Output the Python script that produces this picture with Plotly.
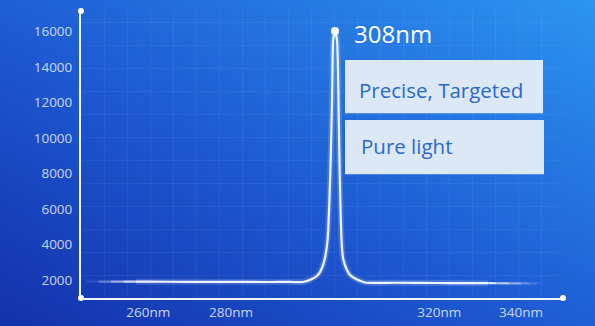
import base64
import numpy as np
import plotly.graph_objects as go

# ---------------- data ----------------
wavelength_nm = [245.2, 248, 251, 254, 257, 260, 270, 280, 290, 296, 299.4, 301.8, 303.4,
                 304.5, 305.3, 306.0, 306.5, 306.9, 307.2, 307.35, 307.5, 308.0, 308.23,
                 308.32, 308.40, 308.49, 308.61, 308.75, 308.92, 309.27, 309.73, 310.42,
                 311.46, 315, 320, 325, 330, 332, 334, 337, 340, 342, 344, 345.4]
intensity = [1915, 1913, 1911, 1909, 1907, 1905, 1898, 1890, 1888, 1890, 1887, 2056, 2282,
             2676, 3240, 4255, 6510, 9328, 12146, 14401, 15528, 16036, 15528,
             14401, 12146, 9328, 6510, 4255, 3240, 2676, 2282, 2056,
             1860, 1845, 1830, 1825, 1820, 1818, 1816, 1814, 1812, 1810, 1808, 1806]

peak_nm = 308
peak_value = 16036
peak_label = "308nm"

y_ticks = [2000, 4000, 6000, 8000, 10000, 12000, 14000, 16000]
y_tick_text = ["2000", "4000", "6000", "8000", "10000", "12000", "14000", "16000"]
x_tick_nm = [260, 280, 320, 340]
x_tick_text = ["260nm", "280nm", "320nm", "340nm"]

box_texts = ["Precise, Targeted", "Pure light"]

# The x axis of the original graphic is not linear: a piecewise scale (nm -> axis units)
scale_nm = [243.8, 260, 280, 308, 320, 340, 350.3]
scale_u = [81, 148.3, 231, 335, 439.3, 521, 563]


def xs(nm):
    return np.interp(np.asarray(nm, dtype=float), scale_nm, scale_u)


# ---------------- layout constants ----------------
W, H = 595, 326
ML, MR, MT, MB = 81, 32, 11, 28
PW, PH = W - ML - MR, H - MT - MB
Y_RANGE = [985, 17165]
X_RANGE = [scale_u[0], scale_u[-1]]


def px_x(px):
    return (px - ML) / PW


def px_y(py):
    return (H - MB - py) / PH


svg = (
    "<svg xmlns='http://www.w3.org/2000/svg' width='595' height='326'>"
    "<defs><linearGradient id='g' x1='0' y1='1' x2='1' y2='0'>"
    "<stop offset='0' stop-color='#1331ab'/>"
    "<stop offset='0.45' stop-color='#1d59d2'/>"
    "<stop offset='1' stop-color='#2c95f1'/>"
    "</linearGradient>"
    "<linearGradient id='f' x1='0' y1='0' x2='0' y2='1'>"
    "<stop offset='0' stop-color='#1d59d2' stop-opacity='0'/>"
    "<stop offset='1' stop-color='#1d59d2' stop-opacity='0'/>"
    "</linearGradient></defs>"
    "<rect width='595' height='326' fill='url(#g)'/></svg>"
)
bg_uri = "data:image/svg+xml;base64," + base64.b64encode(svg.encode()).decode()

fig = go.Figure()

wl = np.array(wavelength_nm)
val = np.array(intensity)
xu = xs(wl)

# fade factor at the two ends of the baseline
fade = np.clip((wl - 245.2) / (257 - 245.2), 0, 1) * np.clip((345.4 - wl) / (345.4 - 332.5), 0, 1)

core = (wl >= 257) & (wl <= 332)

# glow
fig.add_trace(go.Scatter(x=xu[core], y=val[core], mode="lines",
                         line=dict(color="rgba(255,255,255,0.16)", width=6, shape="spline", smoothing=0.6),
                         hoverinfo="skip", showlegend=False))
# main curve
fig.add_trace(go.Scatter(x=xu[core], y=val[core], mode="lines",
                         line=dict(color="rgba(245,248,255,0.97)", width=2.2, shape="spline", smoothing=0.6),
                         hoverinfo="skip", showlegend=False))
# faded ends
for i in range(len(wl) - 1):
    if core[i] and core[i + 1]:
        continue
    a = 0.97 * (fade[i] + fade[i + 1]) / 2
    fig.add_trace(go.Scatter(x=xu[i:i + 2], y=val[i:i + 2], mode="lines",
                             line=dict(color=f"rgba(245,248,255,{a:.3f})", width=2.2),
                             hoverinfo="skip", showlegend=False))

# peak dot
fig.add_trace(go.Scatter(x=xs([peak_nm]), y=[peak_value], mode="markers",
                         marker=dict(color="white", size=8), cliponaxis=False,
                         hoverinfo="skip", showlegend=False))

# axis corner dots
fig.add_trace(go.Scatter(x=[X_RANGE[0], X_RANGE[1], X_RANGE[0]],
                         y=[Y_RANGE[0], Y_RANGE[0], Y_RANGE[1]], mode="markers",
                         marker=dict(color="white", size=6), cliponaxis=False,
                         hoverinfo="skip", showlegend=False))

# peak label
fig.add_annotation(x=float(xs([peak_nm])[0]), y=peak_value, text=peak_label,
                   showarrow=False, xanchor="left", yanchor="middle", xshift=17, yshift=-2,
                   font=dict(family="Open Sans", size=24, color="white"))

# boxes
boxes = [(345, 60, 543, 113.3), (345, 120, 544, 174.3)]
text_pos = [(357, 90.5), (359, 146)]
for (x0, y0, x1, y1), (tx, ty), txt in zip(boxes, text_pos, box_texts):
    fig.add_shape(type="rect", xref="paper", yref="paper",
                  x0=px_x(x0), x1=px_x(x1), y0=px_y(y1), y1=px_y(y0),
                  fillcolor="#dce8f6", line=dict(width=0), layer="above")
    fig.add_annotation(xref="paper", yref="paper", x=px_x(tx), y=px_y(ty), text=txt,
                       showarrow=False, xanchor="left", yanchor="middle",
                       font=dict(family="Open Sans", size=20.5, color="#2968d2"))

fig.add_layout_image(dict(source=bg_uri, xref="paper", yref="paper",
                          x=-ML / PW, y=1 + MT / PH, sizex=W / PW, sizey=H / PH,
                          xanchor="left", yanchor="top", sizing="stretch", layer="below"))

tick_font = dict(family="Open Sans", size=13.5, color="rgba(228,236,255,0.88)")
fig.update_xaxes(range=X_RANGE, showgrid=False, zeroline=False, automargin=False,
                 tickvals=xs(x_tick_nm).tolist(), ticktext=x_tick_text, tickfont=tick_font,
                 ticks="", ticklabelstandoff=1,
                 showline=True, linecolor="rgba(255,255,255,0.95)", linewidth=2,
                 minor=dict(tick0=81, dtick=23, showgrid=True, gridcolor="rgba(255,255,255,0.055)", gridwidth=1))
fig.update_yaxes(range=Y_RANGE, showgrid=False, zeroline=False, automargin=False,
                 tickvals=y_ticks, ticktext=y_tick_text, tickfont=tick_font, ticks="", ticklabelstandoff=4,
                 showline=True, linecolor="rgba(255,255,255,0.95)", linewidth=2,
                 minor=dict(tick0=Y_RANGE[0], dtick=1296, showgrid=True, gridcolor="rgba(255,255,255,0.055)", gridwidth=1))

fig.update_layout(width=W, height=H, autosize=False,
                  margin=dict(l=ML, r=MR, t=MT, b=MB),
                  paper_bgcolor="#1d58d0", plot_bgcolor="rgba(0,0,0,0)",
                  showlegend=False)

fig.write_html("out.html")
